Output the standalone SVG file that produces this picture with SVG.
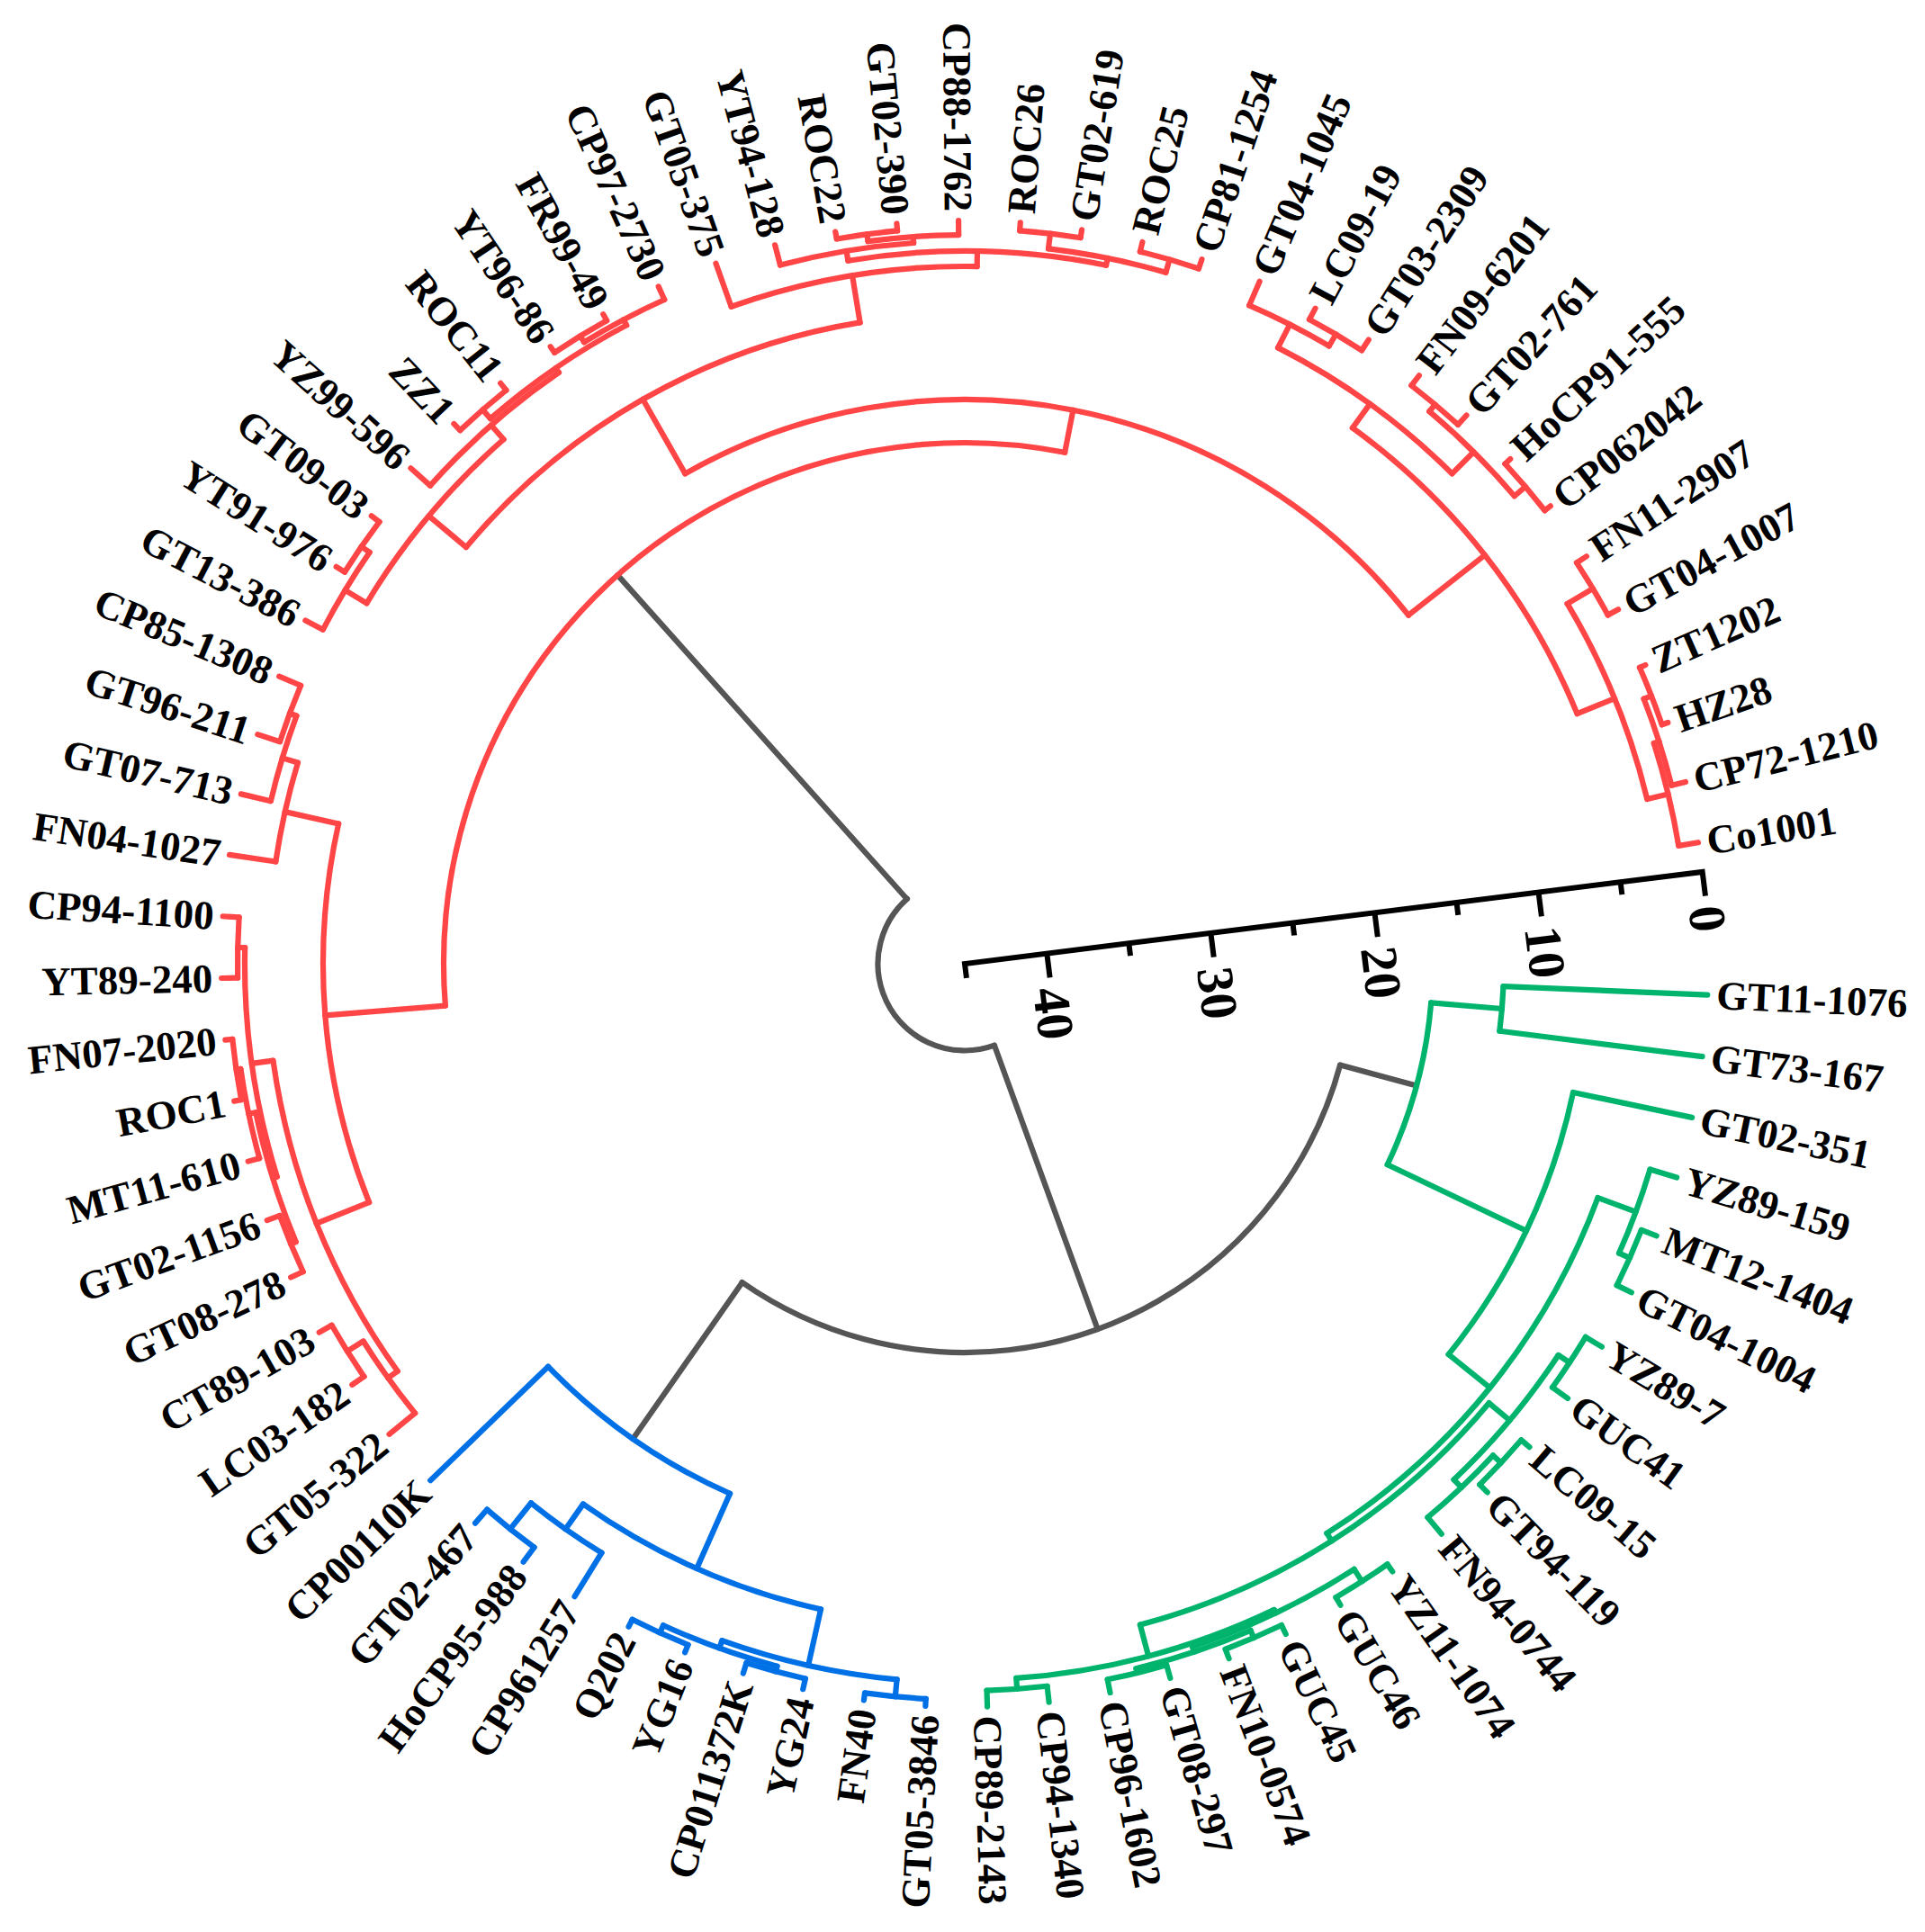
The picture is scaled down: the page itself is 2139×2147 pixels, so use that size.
<svg xmlns="http://www.w3.org/2000/svg" width="2139" height="2147" viewBox="0 0 2139 2147">
<style>
.e{fill:none;stroke-width:6.2;stroke-linecap:round}
.r{stroke:#ff4545}.g{stroke:#00b46e}.b{stroke:#0070e6}.k{stroke:#555555}
.lb text{font-family:"Liberation Serif","Times New Roman",serif;font-weight:bold;font-size:45px;fill:#000}
.lb .L{text-anchor:end}
.ax{stroke:#000;stroke-width:6;fill:none}
.axt{font-family:"Liberation Serif","Times New Roman",serif;font-weight:bold;font-size:58px;fill:#000}
</style>
<rect width="2139" height="2147" fill="#ffffff"/>
<g transform="translate(1072,1071)">
<g id="connectors" class="e">
<g id="root-links" class="k">
<circle r="96.5" stroke-dasharray="266.46 9999" transform="rotate(70.02)"/>
<circle r="432" stroke-dasharray="828.04 9999" transform="rotate(15.1075)"/>
<line x1="96.5" x2="579" transform="rotate(228.23)"/>
<line x1="96.5" x2="432" transform="rotate(70.02)"/>
<line x1="432" x2="520" transform="rotate(15.1075)"/>
<line x1="432" x2="644" transform="rotate(124.93)"/>
</g>
<g id="green-links" class="g">
<circle r="599" stroke-dasharray="49.87 9999" transform="rotate(2.40)"/>
<circle r="520" stroke-dasharray="187.37 9999" transform="rotate(4.785)"/>
<circle r="691" stroke-dasharray="325.38 9999" transform="rotate(11.94)"/>
<circle r="750" stroke-dasharray="487.80 9999" transform="rotate(20.2875)"/>
<circle r="795" stroke-dasharray="99.28 9999" transform="rotate(16.71)"/>
<circle r="808" stroke-dasharray="67.27 9999" transform="rotate(21.48)"/>
<circle r="760" stroke-dasharray="466.62 9999" transform="rotate(39.964)"/>
<circle r="790" stroke-dasharray="180.86 9999" transform="rotate(33.405)"/>
<circle r="805" stroke-dasharray="67.02 9999" transform="rotate(31.02)"/>
<circle r="802" stroke-dasharray="100.15 9999" transform="rotate(42.945)"/>
<circle r="814" stroke-dasharray="67.77 9999" transform="rotate(40.56)"/>
<circle r="796" stroke-dasharray="298.21 9999" transform="rotate(64.41)"/>
<circle r="800" stroke-dasharray="199.81 9999" transform="rotate(57.255)"/>
<circle r="816" stroke-dasharray="67.93 9999" transform="rotate(54.87)"/>
<circle r="806" stroke-dasharray="134.20 9999" transform="rotate(66.795)"/>
<circle r="815" stroke-dasharray="67.85 9999" transform="rotate(64.41)"/>
<circle r="811" stroke-dasharray="67.52 9999" transform="rotate(73.95)"/>
<circle r="808" stroke-dasharray="67.27 9999" transform="rotate(83.49)"/>
<line x1="520" x2="599" transform="rotate(4.785)"/>
<line x1="520" x2="691" transform="rotate(25.43)"/>
<line x1="599" x2="826" transform="rotate(2.40)"/>
<line x1="599" x2="826" transform="rotate(7.17)"/>
<line x1="691" x2="826" transform="rotate(11.94)"/>
<line x1="691" x2="750" transform="rotate(38.92)"/>
<line x1="750" x2="795" transform="rotate(20.2875)"/>
<line x1="795" x2="826" transform="rotate(16.71)"/>
<line x1="795" x2="808" transform="rotate(23.865)"/>
<line x1="808" x2="826" transform="rotate(21.48)"/>
<line x1="808" x2="826" transform="rotate(26.25)"/>
<line x1="750" x2="760" transform="rotate(57.553)"/>
<line x1="760" x2="790" transform="rotate(39.964)"/>
<line x1="790" x2="805" transform="rotate(33.405)"/>
<line x1="805" x2="826" transform="rotate(31.02)"/>
<line x1="805" x2="826" transform="rotate(35.79)"/>
<line x1="790" x2="802" transform="rotate(46.5225)"/>
<line x1="802" x2="814" transform="rotate(42.945)"/>
<line x1="814" x2="826" transform="rotate(40.56)"/>
<line x1="814" x2="826" transform="rotate(45.33)"/>
<line x1="802" x2="826" transform="rotate(50.10)"/>
<line x1="760" x2="796" transform="rotate(75.1425)"/>
<line x1="796" x2="800" transform="rotate(64.41)"/>
<line x1="800" x2="816" transform="rotate(57.255)"/>
<line x1="816" x2="826" transform="rotate(54.87)"/>
<line x1="816" x2="826" transform="rotate(59.64)"/>
<line x1="800" x2="806" transform="rotate(71.565)"/>
<line x1="806" x2="815" transform="rotate(66.795)"/>
<line x1="815" x2="826" transform="rotate(64.41)"/>
<line x1="815" x2="826" transform="rotate(69.18)"/>
<line x1="806" x2="811" transform="rotate(76.335)"/>
<line x1="811" x2="826" transform="rotate(73.95)"/>
<line x1="811" x2="826" transform="rotate(78.72)"/>
<line x1="796" x2="808" transform="rotate(85.875)"/>
<line x1="808" x2="826" transform="rotate(83.49)"/>
<line x1="808" x2="826" transform="rotate(88.26)"/>
</g>
<g id="blue-links" class="b">
<circle r="644" stroke-dasharray="247.96 9999" transform="rotate(113.899)"/>
<circle r="735" stroke-dasharray="290.65 9999" transform="rotate(102.57)"/>
<circle r="769" stroke-dasharray="96.03 9999" transform="rotate(121.65)"/>
<circle r="806" stroke-dasharray="67.10 9999" transform="rotate(126.42)"/>
<circle r="799" stroke-dasharray="199.56 9999" transform="rotate(95.415)"/>
<circle r="818" stroke-dasharray="68.10 9999" transform="rotate(93.03)"/>
<circle r="808" stroke-dasharray="134.53 9999" transform="rotate(104.955)"/>
<circle r="814" stroke-dasharray="67.77 9999" transform="rotate(102.57)"/>
<circle r="817" stroke-dasharray="68.02 9999" transform="rotate(112.11)"/>
<line x1="644" x2="826" transform="rotate(135.96)"/>
<line x1="644" x2="735" transform="rotate(113.899)"/>
<line x1="735" x2="769" transform="rotate(125.2275)"/>
<line x1="769" x2="826" transform="rotate(121.65)"/>
<line x1="769" x2="806" transform="rotate(128.805)"/>
<line x1="806" x2="826" transform="rotate(126.42)"/>
<line x1="806" x2="826" transform="rotate(131.19)"/>
<line x1="735" x2="799" transform="rotate(102.57)"/>
<line x1="799" x2="818" transform="rotate(95.415)"/>
<line x1="818" x2="826" transform="rotate(93.03)"/>
<line x1="818" x2="826" transform="rotate(97.80)"/>
<line x1="799" x2="808" transform="rotate(109.725)"/>
<line x1="808" x2="814" transform="rotate(104.955)"/>
<line x1="814" x2="826" transform="rotate(102.57)"/>
<line x1="814" x2="826" transform="rotate(107.34)"/>
<line x1="808" x2="817" transform="rotate(114.495)"/>
<line x1="817" x2="826" transform="rotate(112.11)"/>
<line x1="817" x2="826" transform="rotate(116.88)"/>
</g>
<g id="red-links" class="r">
<circle r="579" stroke-dasharray="1068.0 9999" transform="rotate(175.387)"/>
<circle r="713" stroke-dasharray="428.50 9999" transform="rotate(158.170)"/>
<circle r="776" stroke-dasharray="375.50 9999" transform="rotate(144.3075)"/>
<circle r="789" stroke-dasharray="98.53 9999" transform="rotate(140.73)"/>
<circle r="810" stroke-dasharray="67.43 9999" transform="rotate(145.50)"/>
<circle r="800" stroke-dasharray="258.08 9999" transform="rotate(162.791)"/>
<circle r="805" stroke-dasharray="150.79 9999" transform="rotate(157.425)"/>
<circle r="811" stroke-dasharray="67.52 9999" transform="rotate(155.04)"/>
<circle r="813" stroke-dasharray="101.53 9999" transform="rotate(164.58)"/>
<circle r="818" stroke-dasharray="68.10 9999" transform="rotate(169.35)"/>
<circle r="808" stroke-dasharray="67.27 9999" transform="rotate(178.89)"/>
<circle r="774" stroke-dasharray="112.76 9999" transform="rotate(188.43)"/>
<circle r="792" stroke-dasharray="98.90 9999" transform="rotate(193.20)"/>
<circle r="800" stroke-dasharray="66.60 9999" transform="rotate(197.97)"/>
<circle r="627" stroke-dasharray="892.27 9999" transform="rotate(240.304)"/>
<circle r="722" stroke-dasharray="514.68 9999" transform="rotate(219.882)"/>
<circle r="776" stroke-dasharray="238.23 9999" transform="rotate(211.0875)"/>
<circle r="804" stroke-dasharray="100.40 9999" transform="rotate(207.51)"/>
<circle r="815" stroke-dasharray="67.85 9999" transform="rotate(212.28)"/>
<circle r="797" stroke-dasharray="190.77 9999" transform="rotate(221.82)"/>
<circle r="803" stroke-dasharray="183.84 9999" transform="rotate(228.975)"/>
<circle r="816" stroke-dasharray="67.93 9999" transform="rotate(226.59)"/>
<circle r="810" stroke-dasharray="101.15 9999" transform="rotate(238.515)"/>
<circle r="818" stroke-dasharray="68.10 9999" transform="rotate(236.13)"/>
<circle r="775" stroke-dasharray="278.25 9999" transform="rotate(250.44)"/>
<circle r="792" stroke-dasharray="288.47 9999" transform="rotate(260.576)"/>
<circle r="803" stroke-dasharray="150.41 9999" transform="rotate(255.21)"/>
<circle r="810" stroke-dasharray="101.15 9999" transform="rotate(262.365)"/>
<circle r="818" stroke-dasharray="68.10 9999" transform="rotate(259.98)"/>
<circle r="800" stroke-dasharray="133.20 9999" transform="rotate(276.675)"/>
<circle r="817" stroke-dasharray="68.02 9999" transform="rotate(274.29)"/>
<circle r="815" stroke-dasharray="67.85 9999" transform="rotate(283.83)"/>
<circle r="735" stroke-dasharray="409.21 9999" transform="rotate(305.891)"/>
<circle r="768" stroke-dasharray="239.77 9999" transform="rotate(296.9475)"/>
<circle r="797" stroke-dasharray="99.53 9999" transform="rotate(293.37)"/>
<circle r="812" stroke-dasharray="67.60 9999" transform="rotate(298.14)"/>
<circle r="802" stroke-dasharray="133.54 9999" transform="rotate(310.065)"/>
<circle r="812" stroke-dasharray="67.60 9999" transform="rotate(307.68)"/>
<circle r="818" stroke-dasharray="68.10 9999" transform="rotate(317.22)"/>
<circle r="780" stroke-dasharray="235.39 9999" transform="rotate(329.145)"/>
<circle r="813" stroke-dasharray="67.68 9999" transform="rotate(326.76)"/>
<circle r="804" stroke-dasharray="117.14 9999" transform="rotate(342.2625)"/>
<circle r="810" stroke-dasharray="101.15 9999" transform="rotate(338.685)"/>
<circle r="819" stroke-dasharray="68.18 9999" transform="rotate(336.30)"/>
<line x1="579" x2="713" transform="rotate(175.387)"/>
<line x1="579" x2="627" transform="rotate(281.072)"/>
<line x1="713" x2="776" transform="rotate(158.170)"/>
<line x1="713" x2="774" transform="rotate(192.604)"/>
<line x1="776" x2="789" transform="rotate(144.3075)"/>
<line x1="789" x2="826" transform="rotate(140.73)"/>
<line x1="789" x2="810" transform="rotate(147.885)"/>
<line x1="810" x2="826" transform="rotate(145.50)"/>
<line x1="810" x2="826" transform="rotate(150.27)"/>
<line x1="776" x2="800" transform="rotate(172.033)"/>
<line x1="800" x2="805" transform="rotate(162.791)"/>
<line x1="805" x2="811" transform="rotate(157.425)"/>
<line x1="811" x2="826" transform="rotate(155.04)"/>
<line x1="811" x2="826" transform="rotate(159.81)"/>
<line x1="805" x2="813" transform="rotate(168.1575)"/>
<line x1="813" x2="826" transform="rotate(164.58)"/>
<line x1="813" x2="818" transform="rotate(171.735)"/>
<line x1="818" x2="826" transform="rotate(169.35)"/>
<line x1="818" x2="826" transform="rotate(174.12)"/>
<line x1="800" x2="808" transform="rotate(181.275)"/>
<line x1="808" x2="826" transform="rotate(178.89)"/>
<line x1="808" x2="826" transform="rotate(183.66)"/>
<line x1="774" x2="826" transform="rotate(188.43)"/>
<line x1="774" x2="792" transform="rotate(196.7775)"/>
<line x1="792" x2="826" transform="rotate(193.20)"/>
<line x1="792" x2="800" transform="rotate(200.355)"/>
<line x1="800" x2="826" transform="rotate(197.97)"/>
<line x1="800" x2="826" transform="rotate(202.74)"/>
<line x1="627" x2="722" transform="rotate(240.304)"/>
<line x1="722" x2="776" transform="rotate(219.882)"/>
<line x1="776" x2="804" transform="rotate(211.0875)"/>
<line x1="804" x2="826" transform="rotate(207.51)"/>
<line x1="804" x2="815" transform="rotate(214.665)"/>
<line x1="815" x2="826" transform="rotate(212.28)"/>
<line x1="815" x2="826" transform="rotate(217.05)"/>
<line x1="776" x2="797" transform="rotate(228.677)"/>
<line x1="797" x2="826" transform="rotate(221.82)"/>
<line x1="797" x2="803" transform="rotate(235.534)"/>
<line x1="803" x2="816" transform="rotate(228.975)"/>
<line x1="816" x2="826" transform="rotate(226.59)"/>
<line x1="816" x2="826" transform="rotate(231.36)"/>
<line x1="803" x2="810" transform="rotate(242.0925)"/>
<line x1="810" x2="818" transform="rotate(238.515)"/>
<line x1="818" x2="826" transform="rotate(236.13)"/>
<line x1="818" x2="826" transform="rotate(240.90)"/>
<line x1="810" x2="826" transform="rotate(245.67)"/>
<line x1="722" x2="775" transform="rotate(260.7255)"/>
<line x1="775" x2="826" transform="rotate(250.44)"/>
<line x1="775" x2="792" transform="rotate(271.011)"/>
<line x1="792" x2="803" transform="rotate(260.576)"/>
<line x1="803" x2="826" transform="rotate(255.21)"/>
<line x1="803" x2="810" transform="rotate(265.9425)"/>
<line x1="810" x2="818" transform="rotate(262.365)"/>
<line x1="818" x2="826" transform="rotate(259.98)"/>
<line x1="818" x2="826" transform="rotate(264.75)"/>
<line x1="810" x2="826" transform="rotate(269.52)"/>
<line x1="792" x2="800" transform="rotate(281.445)"/>
<line x1="800" x2="817" transform="rotate(276.675)"/>
<line x1="817" x2="826" transform="rotate(274.29)"/>
<line x1="817" x2="826" transform="rotate(279.06)"/>
<line x1="800" x2="815" transform="rotate(286.215)"/>
<line x1="815" x2="826" transform="rotate(283.83)"/>
<line x1="815" x2="826" transform="rotate(288.60)"/>
<line x1="627" x2="735" transform="rotate(321.84)"/>
<line x1="735" x2="768" transform="rotate(305.891)"/>
<line x1="768" x2="797" transform="rotate(296.9475)"/>
<line x1="797" x2="826" transform="rotate(293.37)"/>
<line x1="797" x2="812" transform="rotate(300.525)"/>
<line x1="812" x2="826" transform="rotate(298.14)"/>
<line x1="812" x2="826" transform="rotate(302.91)"/>
<line x1="768" x2="802" transform="rotate(314.835)"/>
<line x1="802" x2="812" transform="rotate(310.065)"/>
<line x1="812" x2="826" transform="rotate(307.68)"/>
<line x1="812" x2="826" transform="rotate(312.45)"/>
<line x1="802" x2="818" transform="rotate(319.605)"/>
<line x1="818" x2="826" transform="rotate(317.22)"/>
<line x1="818" x2="826" transform="rotate(321.99)"/>
<line x1="735" x2="780" transform="rotate(337.79)"/>
<line x1="780" x2="813" transform="rotate(329.145)"/>
<line x1="813" x2="826" transform="rotate(326.76)"/>
<line x1="813" x2="826" transform="rotate(331.53)"/>
<line x1="780" x2="804" transform="rotate(346.436)"/>
<line x1="804" x2="810" transform="rotate(342.2625)"/>
<line x1="810" x2="819" transform="rotate(338.685)"/>
<line x1="819" x2="826" transform="rotate(336.30)"/>
<line x1="819" x2="826" transform="rotate(341.07)"/>
<line x1="810" x2="826" transform="rotate(345.84)"/>
<line x1="804" x2="826" transform="rotate(350.61)"/>
</g>
</g>
<g id="labels" class="lb">
<g id="n-GT11-1076"><text transform="rotate(2.40)" x="836" dy="0.34em">GT11-1076</text></g>
<g id="n-GT73-167"><text transform="rotate(7.17)" x="836" dy="0.34em">GT73-167</text></g>
<g id="n-GT02-351"><text transform="rotate(11.94)" x="836" dy="0.34em">GT02-351</text></g>
<g id="n-YZ89-159"><text transform="rotate(16.71)" x="836" dy="0.34em">YZ89-159</text></g>
<g id="n-MT12-1404"><text transform="rotate(21.48)" x="836" dy="0.34em">MT12-1404</text></g>
<g id="n-GT04-1004"><text transform="rotate(26.25)" x="836" dy="0.34em">GT04-1004</text></g>
<g id="n-YZ89-7"><text transform="rotate(31.02)" x="836" dy="0.34em">YZ89-7</text></g>
<g id="n-GUC41"><text transform="rotate(35.79)" x="836" dy="0.34em">GUC41</text></g>
<g id="n-LC09-15"><text transform="rotate(40.56)" x="836" dy="0.34em">LC09-15</text></g>
<g id="n-GT94-119"><text transform="rotate(45.33)" x="836" dy="0.34em">GT94-119</text></g>
<g id="n-FN94-0744"><text transform="rotate(50.10)" x="836" dy="0.34em">FN94-0744</text></g>
<g id="n-YZ11-1074"><text transform="rotate(54.87)" x="836" dy="0.34em">YZ11-1074</text></g>
<g id="n-GUC46"><text transform="rotate(59.64)" x="836" dy="0.34em">GUC46</text></g>
<g id="n-GUC45"><text transform="rotate(64.41)" x="836" dy="0.34em">GUC45</text></g>
<g id="n-FN10-0574"><text transform="rotate(69.18)" x="836" dy="0.34em">FN10-0574</text></g>
<g id="n-GT08-297"><text transform="rotate(73.95)" x="836" dy="0.34em">GT08-297</text></g>
<g id="n-CP96-1602"><text transform="rotate(78.72)" x="836" dy="0.34em">CP96-1602</text></g>
<g id="n-CP94-1340"><text transform="rotate(83.49)" x="836" dy="0.34em">CP94-1340</text></g>
<g id="n-CP89-2143"><text transform="rotate(88.26)" x="836" dy="0.34em">CP89-2143</text></g>
<g id="n-GT05-3846"><text class="L" transform="rotate(-86.97)" x="-836" dy="0.34em">GT05-3846</text></g>
<g id="n-FN40"><text class="L" transform="rotate(-82.20)" x="-836" dy="0.34em">FN40</text></g>
<g id="n-YG24"><text class="L" transform="rotate(-77.43)" x="-836" dy="0.34em">YG24</text></g>
<g id="n-CP011372K"><text class="L" transform="rotate(-72.66)" x="-836" dy="0.34em">CP011372K</text></g>
<g id="n-YG16"><text class="L" transform="rotate(-67.89)" x="-836" dy="0.34em">YG16</text></g>
<g id="n-Q202"><text class="L" transform="rotate(-63.12)" x="-836" dy="0.34em">Q202</text></g>
<g id="n-CP961257"><text class="L" transform="rotate(-58.35)" x="-836" dy="0.34em">CP961257</text></g>
<g id="n-HoCP95-988"><text class="L" transform="rotate(-53.58)" x="-836" dy="0.34em">HoCP95-988</text></g>
<g id="n-GT02-467"><text class="L" transform="rotate(-48.81)" x="-836" dy="0.34em">GT02-467</text></g>
<g id="n-CP00110K"><text class="L" transform="rotate(-44.04)" x="-836" dy="0.34em">CP00110K</text></g>
<g id="n-GT05-322"><text class="L" transform="rotate(-39.27)" x="-836" dy="0.34em">GT05-322</text></g>
<g id="n-LC03-182"><text class="L" transform="rotate(-34.50)" x="-836" dy="0.34em">LC03-182</text></g>
<g id="n-CT89-103"><text class="L" transform="rotate(-29.73)" x="-836" dy="0.34em">CT89-103</text></g>
<g id="n-GT08-278"><text class="L" transform="rotate(-24.96)" x="-836" dy="0.34em">GT08-278</text></g>
<g id="n-GT02-1156"><text class="L" transform="rotate(-20.19)" x="-836" dy="0.34em">GT02-1156</text></g>
<g id="n-MT11-610"><text class="L" transform="rotate(-15.42)" x="-836" dy="0.34em">MT11-610</text></g>
<g id="n-ROC1"><text class="L" transform="rotate(-10.65)" x="-836" dy="0.34em">ROC1</text></g>
<g id="n-FN07-2020"><text class="L" transform="rotate(-5.88)" x="-836" dy="0.34em">FN07-2020</text></g>
<g id="n-YT89-240"><text class="L" transform="rotate(-1.11)" x="-836" dy="0.34em">YT89-240</text></g>
<g id="n-CP94-1100"><text class="L" transform="rotate(3.66)" x="-836" dy="0.34em">CP94-1100</text></g>
<g id="n-FN04-1027"><text class="L" transform="rotate(8.43)" x="-836" dy="0.34em">FN04-1027</text></g>
<g id="n-GT07-713"><text class="L" transform="rotate(13.20)" x="-836" dy="0.34em">GT07-713</text></g>
<g id="n-GT96-211"><text class="L" transform="rotate(17.97)" x="-836" dy="0.34em">GT96-211</text></g>
<g id="n-CP85-1308"><text class="L" transform="rotate(22.74)" x="-836" dy="0.34em">CP85-1308</text></g>
<g id="n-GT13-386"><text class="L" transform="rotate(27.51)" x="-836" dy="0.34em">GT13-386</text></g>
<g id="n-YT91-976"><text class="L" transform="rotate(32.28)" x="-836" dy="0.34em">YT91-976</text></g>
<g id="n-GT09-03"><text class="L" transform="rotate(37.05)" x="-836" dy="0.34em">GT09-03</text></g>
<g id="n-YZ99-596"><text class="L" transform="rotate(41.82)" x="-836" dy="0.34em">YZ99-596</text></g>
<g id="n-ZZ1"><text class="L" transform="rotate(46.59)" x="-836" dy="0.34em">ZZ1</text></g>
<g id="n-ROC11"><text class="L" transform="rotate(51.36)" x="-836" dy="0.34em">ROC11</text></g>
<g id="n-YT96-86"><text class="L" transform="rotate(56.13)" x="-836" dy="0.34em">YT96-86</text></g>
<g id="n-FR99-49"><text class="L" transform="rotate(60.90)" x="-836" dy="0.34em">FR99-49</text></g>
<g id="n-CP97-2730"><text class="L" transform="rotate(65.67)" x="-836" dy="0.34em">CP97-2730</text></g>
<g id="n-GT05-375"><text class="L" transform="rotate(70.44)" x="-836" dy="0.34em">GT05-375</text></g>
<g id="n-YT94-128"><text class="L" transform="rotate(75.21)" x="-836" dy="0.34em">YT94-128</text></g>
<g id="n-ROC22"><text class="L" transform="rotate(79.98)" x="-836" dy="0.34em">ROC22</text></g>
<g id="n-GT02-390"><text class="L" transform="rotate(84.75)" x="-836" dy="0.34em">GT02-390</text></g>
<g id="n-CP88-1762"><text class="L" transform="rotate(89.52)" x="-836" dy="0.34em">CP88-1762</text></g>
<g id="n-ROC26"><text transform="rotate(274.29)" x="836" dy="0.34em">ROC26</text></g>
<g id="n-GT02-619"><text transform="rotate(279.06)" x="836" dy="0.34em">GT02-619</text></g>
<g id="n-ROC25"><text transform="rotate(283.83)" x="836" dy="0.34em">ROC25</text></g>
<g id="n-CP81-1254"><text transform="rotate(288.60)" x="836" dy="0.34em">CP81-1254</text></g>
<g id="n-GT04-1045"><text transform="rotate(293.37)" x="836" dy="0.34em">GT04-1045</text></g>
<g id="n-LC09-19"><text transform="rotate(298.14)" x="836" dy="0.34em">LC09-19</text></g>
<g id="n-GT03-2309"><text transform="rotate(302.91)" x="836" dy="0.34em">GT03-2309</text></g>
<g id="n-FN09-6201"><text transform="rotate(307.68)" x="836" dy="0.34em">FN09-6201</text></g>
<g id="n-GT02-761"><text transform="rotate(312.45)" x="836" dy="0.34em">GT02-761</text></g>
<g id="n-HoCP91-555"><text transform="rotate(317.22)" x="836" dy="0.34em">HoCP91-555</text></g>
<g id="n-CP062042"><text transform="rotate(321.99)" x="836" dy="0.34em">CP062042</text></g>
<g id="n-FN11-2907"><text transform="rotate(326.76)" x="836" dy="0.34em">FN11-2907</text></g>
<g id="n-GT04-1007"><text transform="rotate(331.53)" x="836" dy="0.34em">GT04-1007</text></g>
<g id="n-ZT1202"><text transform="rotate(336.30)" x="836" dy="0.34em">ZT1202</text></g>
<g id="n-HZ28"><text transform="rotate(341.07)" x="836" dy="0.34em">HZ28</text></g>
<g id="n-CP72-1210"><text transform="rotate(345.84)" x="836" dy="0.34em">CP72-1210</text></g>
<g id="n-Co1001"><text transform="rotate(350.61)" x="836" dy="0.34em">Co1001</text></g>
</g>
<g id="scale-bar" transform="rotate(-7.1)">
<path class="ax" d="M0,16 V0 H826 V27"/>
<path class="ax" d="M734.25,0 v14 M642.5,0 v27 M550.75,0 v14 M459,0 v27 M367.25,0 v14 M275.5,0 v27 M183.75,0 v14 M92,0 v27"/>
<text class="axt" transform="translate(826,38) rotate(90)" dy="0.35em">0</text>
<text class="axt" transform="translate(642.5,38) rotate(90)" dy="0.35em">10</text>
<text class="axt" transform="translate(459,38) rotate(90)" dy="0.35em">20</text>
<text class="axt" transform="translate(275.5,38) rotate(90)" dy="0.35em">30</text>
<text class="axt" transform="translate(92,38) rotate(90)" dy="0.35em">40</text>
</g>
</g>
</svg>
